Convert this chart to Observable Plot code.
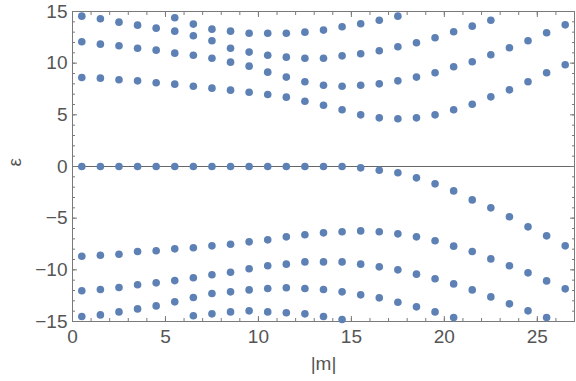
<!DOCTYPE html>
<html>
<head>
<meta charset="utf-8">
<script src="https://cdn.jsdelivr.net/npm/d3@7"></script>
<script src="https://cdn.jsdelivr.net/npm/@observablehq/plot@0.6"></script>
<style>
  html, body { margin: 0; padding: 0; background: #fff; }
</style>
</head>
<body>
<div id="chart"></div>
<script>
const m = [0.5,1.5,2.5,3.5,4.5,5.5,6.5,7.5,8.5,9.5,10.5,11.5,12.5,13.5,14.5,15.5,16.5,17.5,18.5,19.5,20.5,21.5,22.5,23.5,24.5,25.5,26.5];

const p1 = [8.62,8.55,8.39,8.29,8.10,7.97,7.77,7.58,7.39,7.19,6.97,6.71,6.32,5.93,5.49,5.00,4.71,4.62,4.71,5.00,5.49,6.03,6.74,7.42,8.20,9.07,9.84];
const p2 = [12.07,11.84,11.68,11.45,11.26,10.97,10.77,10.48,10.10,9.71,9.13,8.65,8.20,7.87,7.77,7.87,8.00,8.29,8.65,9.07,9.65,10.13,10.81,11.49,12.17,12.94,13.71];
const p3 = [14.55,14.30,13.97,13.68,13.39,13.10,12.65,12.17,11.45,11.07,10.77,10.58,10.48,10.48,10.71,10.91,11.20,11.59,11.97,12.46,13.04,13.58,14.16,null,null,null,null];
const p4 = [null,null,null,null,null,14.40,13.78,13.29,13.10,12.90,12.90,12.90,13.00,13.20,13.52,13.81,14.16,14.55,null,null,null,null,null,null,null,null,null];
const z0 = [0,0,0,0,0,0,0,0,0,0,0,0,0,0,0,-0.13,-0.36,-0.61,-1.10,-1.68,-2.36,-3.23,-4.00,-4.87,-5.84,-6.71,-7.68];
const n1 = [-8.68,-8.59,-8.49,-8.23,-8.16,-7.97,-7.87,-7.68,-7.52,-7.29,-7.10,-6.81,-6.61,-6.42,-6.32,-6.23,-6.32,-6.52,-6.81,-7.19,-7.71,-8.23,-8.94,-9.61,-10.29,-11.07,-11.84];
const n2 = [-12.03,-11.91,-11.71,-11.45,-11.26,-11.04,-10.77,-10.48,-10.23,-9.90,-9.61,-9.45,-9.23,-9.23,-9.23,-9.45,-9.71,-10.00,-10.42,-10.87,-11.36,-11.94,-12.62,-13.29,-13.97,-14.62,null];
const n3 = [-14.52,-14.36,-14.07,-13.78,-13.49,-13.10,-12.68,-12.29,-12.13,-11.94,-11.81,-11.74,-11.81,-11.91,-12.13,-12.42,-12.71,-13.13,-13.58,-14.07,-14.62,null,null,null,null,null,null];
const n4 = [null,null,null,null,null,null,-14.45,-14.26,-14.07,-13.97,-14.07,-14.16,-14.26,-14.52,-14.81,null,null,null,null,null,null,null,null,null,null,null,null];

const xMajor = [0,5,10,15,20,25];
const xMinor = [0,1,2,3,4,5,6,7,8,9,10,11,12,13,14,15,16,17,18,19,20,21,22,23,24,25,26,27];
const yMajor = [-15,-10,-5,0,5,10,15];
const yMinor = [-15,-14,-13,-12,-11,-10,-9,-8,-7,-6,-5,-4,-3,-2,-1,0,1,2,3,4,5,6,7,8,9,10,11,12,13,14,15];
const xLabel = "|m|";
const yLabel = "ε";

const series = [p1, p2, p3, p4, z0, n1, n2, n3, n4];
const points = [];
for (const s of series) s.forEach((v, i) => { if (v !== null) points.push({m: m[i], e: v}); });

const frameColor = "#7a7a7a";
const textColor = "#555";

const tickAxes = (anchorX, anchorY) => [
  Plot.axisX(xMinor, {anchor: anchorX, tickSize: -3, tickFormat: () => "", stroke: frameColor, label: null}),
  Plot.axisX(xMajor, {anchor: anchorX, tickSize: -5, tickFormat: () => "", stroke: frameColor, label: null}),
  Plot.axisY(yMinor, {anchor: anchorY, tickSize: -3, tickFormat: () => "", stroke: frameColor, label: null}),
  Plot.axisY(yMajor, {anchor: anchorY, tickSize: -5, tickFormat: () => "", stroke: frameColor, label: null})
];

const chart = Plot.plot({
  width: 576,
  height: 381,
  marginLeft: 72,
  marginRight: 2,
  marginTop: 11,
  marginBottom: 60,
  style: {fontFamily: "Liberation Sans, Arial, sans-serif", fontSize: "19px", background: "#fff"},
  x: {domain: [0, 27], label: null},
  y: {domain: [-15, 15], label: null},
  marks: [
    Plot.ruleY([0], {stroke: "#666", strokeWidth: 1}),
    Plot.frame({stroke: frameColor}),
    ...tickAxes("bottom", "left"),
    ...tickAxes("top", "right"),
    Plot.axisX(xMajor, {anchor: "bottom", tickSize: 0, tickPadding: 8, fill: textColor, fontSize: 19, label: null}),
    Plot.axisY(yMajor, {anchor: "left", tickSize: 0, tickPadding: 5, fill: textColor, fontSize: 19, label: null,
      tickFormat: d => d < 0 ? "\u2212" + Math.abs(d) : String(d)}),
    Plot.dot(points, {x: "m", y: "e", r: 3.8, fill: "#5E81B5", stroke: "none"}),
    Plot.text([xLabel], {frameAnchor: "bottom", dy: 42, fill: textColor, fontSize: 19, lineAnchor: "middle"}),
    Plot.text([yLabel], {frameAnchor: "left", dx: -58, rotate: -90, fill: textColor, fontSize: 19, lineAnchor: "middle"})
  ]
});
document.getElementById("chart").appendChild(chart);
</script>
</body>
</html>
